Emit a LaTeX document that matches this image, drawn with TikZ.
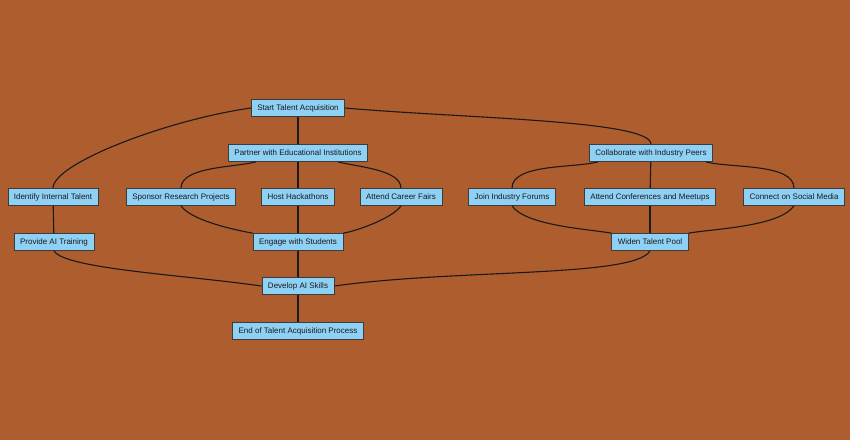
\documentclass[tikz,border=0pt]{standalone}
\usepackage{fontspec}
\setmainfont{Liberation Sans}
\usetikzlibrary{positioning}
\definecolor{rustbg}{HTML}{AD5D2E}
\definecolor{cellsky}{HTML}{8FD0F5}
\definecolor{edgeink}{HTML}{1A1A1A}

\begin{document}
\begin{tikzpicture}[
  x=1pt, y=-1pt,
  font=\fontsize{8}{9}\selectfont,
  box/.style={rectangle, draw=edgeink!85, fill=cellsky, line width=0.7pt,
              inner xsep=6pt, inner ysep=0pt, minimum height=17pt,
              text height=5.8pt, text depth=1.6pt, text=edgeink},
  link/.style={draw=edgeink, line width=1.1pt}
]
\fill[rustbg] (0,0) rectangle (850,440);
\useasboundingbox (0,0) rectangle (850,440);

% top of the tree
\node[box] (start) at (298,108) {Start Talent Acquisition};
\node[box] (partner) at (298,153) {Partner with Educational Institutions};
\node[box] (collab) at (651,153) {Collaborate with Industry Peers};

% middle row
\node[box] (internal) at (53,197) {Identify Internal Talent};
\node[box] (sponsor) at (181,197) {Sponsor Research Projects};
\node[box] (hack) at (298,197) {Host Hackathons};
\node[box] (fairs) at (401,197) {Attend Career Fairs};
\node[box] (forums) at (512,197) {Join Industry Forums};
\node[box] (meetups) at (650,197) {Attend Conferences and Meetups};
\node[box] (social) at (794,197) {Connect on Social Media};

% lower rows
\node[box] (training) at (54,242) {Provide AI Training};
\node[box] (students) at (298,242) {Engage with Students};
\node[box] (pool) at (650,242) {Widen Talent Pool};
\node[box] (skills) at (298,286) {Develop AI Skills};
\node[box] (finish) at (298,331) {End of Talent Acquisition Process};

\draw[link] (start.west) to[out=188,in=90, out looseness=1, in looseness=0.3] (internal.north);
\draw[link] (start) -- (partner);
\draw[link] (start.east) to[out=-5,in=90, out looseness=1, in looseness=0.2] (collab.north);

\draw[link] ([xshift=28pt]partner.south west) to[out=195,in=90, looseness=0.7] (sponsor.north);
\draw[link] (partner) -- (hack);
\draw[link] ([xshift=-30pt]partner.south east) to[out=-15,in=90, looseness=0.7] (fairs.north);

\draw[link] ([xshift=9pt]collab.south west) to[out=195,in=90, looseness=0.7] (forums.north);
\draw[link] (collab) -- (meetups);
\draw[link] ([xshift=-7pt]collab.south east) to[out=-15,in=90, looseness=0.7] (social.north);

\draw[link] (internal) -- (training);
\draw[link] (sponsor.south) to[out=-55,in=170, looseness=0.6] (students.north west);
\draw[link] (hack) -- (students);
\draw[link] (fairs.south) to[out=-125,in=10, looseness=0.6] (students.north east);

\draw[link] (forums.south) to[out=-55,in=170, looseness=0.6] (pool.north west);
\draw[link] (meetups) -- (pool);
\draw[link] (social.south) to[out=-125,in=10, looseness=0.6] (pool.north east);

\draw[link] (training.south) to[out=-60,in=172, out looseness=0.25, in looseness=1] (skills.west);
\draw[link] (students) -- (skills);
\draw[link] (pool.south) to[out=-120,in=8, out looseness=0.25, in looseness=1] (skills.east);
\draw[link] (skills) -- (finish);
\end{tikzpicture}
\end{document}
